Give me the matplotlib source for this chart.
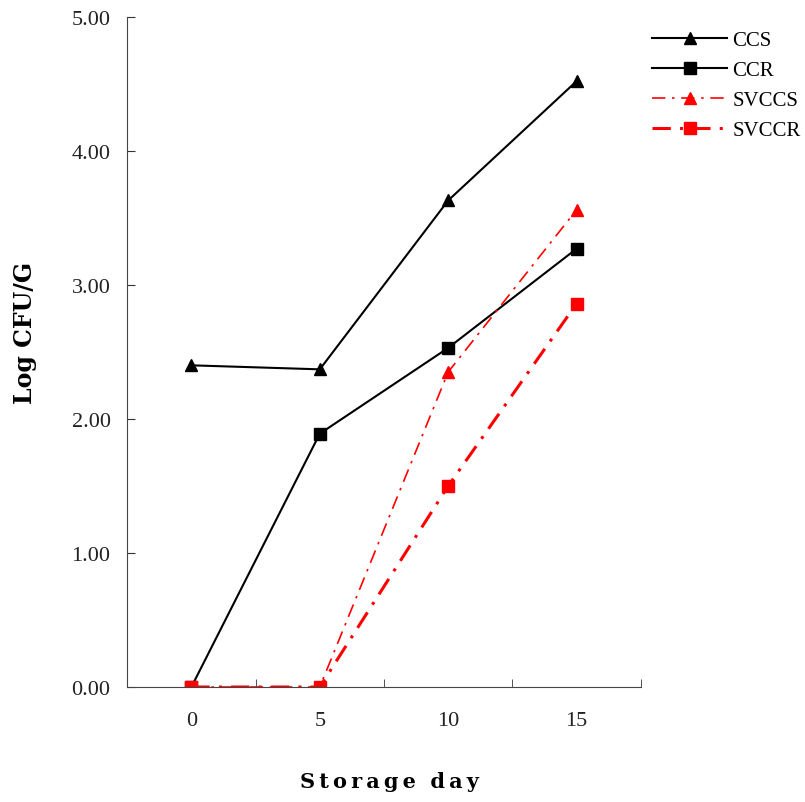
import matplotlib
matplotlib.use('Agg')
import matplotlib.pyplot as plt
import numpy as np

plt.rcParams['font.family'] = ['Liberation Serif', 'DejaVu Serif']

days = ['0', '5', '10', '15']
ccs = [2.40, 2.37, 3.63, 4.52]
ccr = [0.00, 1.89, 2.53, 3.27]
svccs = [0.00, 0.00, 2.35, 3.56]
svccr = [0.00, 0.00, 1.50, 2.86]

fig = plt.figure(figsize=(8.05, 8.03), dpi=100)
ax = fig.add_axes([0.158, 0.1432, 0.638, 0.8346])

x = np.arange(len(days))
ax.plot(x, ccs, color='black', lw=1.5, marker='^', ms=9, label='CCS')
ax.plot(x, ccr, color='black', lw=1.5, marker='s', ms=9, label='CCR')
ax.plot(x, svccs, color='red', lw=1.2, ls=(0, (8, 4, 1.5, 4)), marker='^', ms=9, label='SVCCS')
ax.plot(x, svccr, color='red', lw=2.2, ls=(0, (6, 3, 1, 3)), marker='s', ms=9, label='SVCCR')

ax.set_xlim(-0.5, 3.5)
ax.set_ylim(0, 5)
ax.set_xticks(x)
ax.set_xticklabels(days)
ax.set_xticks(np.arange(-0.5, 3.6, 1), minor=True)
ax.tick_params(axis='x', which='major', length=0, pad=17, labelsize=16)
ax.tick_params(axis='x', which='minor', direction='in', length=6, color='#333333')
ax.set_yticks(np.arange(0, 5.01, 1))
ax.set_yticklabels(['%.2f' % v for v in np.arange(0, 5.01, 1)])
ax.tick_params(axis='y', direction='in', length=6, pad=12, labelsize=16, color='#333333')
for lbl in ax.get_xticklabels() + ax.get_yticklabels():
    lbl.set_color('#222222')

ax.spines['top'].set_visible(False)
ax.spines['right'].set_visible(False)
ax.spines['left'].set_color('#444444')
ax.spines['bottom'].set_color('#444444')

sp = '\u2009'
ax.set_xlabel(sp.join('Storage') + '  ' + sp.join('day'), fontsize=15, fontweight='bold',
              family='DejaVu Serif')
ax.xaxis.set_label_coords(0.51, -0.125)
ax.set_ylabel('Log CFU/G', fontsize=17, fontweight='bold', family='DejaVu Serif')
ax.yaxis.set_label_coords(-0.175, 0.53)

fig.legend(loc='upper left', bbox_to_anchor=(0.787, 0.984), frameon=False,
           fontsize=15, handlelength=3.6, handletextpad=0.25, labelspacing=0.5)

fig.savefig('out.png', dpi=100)
